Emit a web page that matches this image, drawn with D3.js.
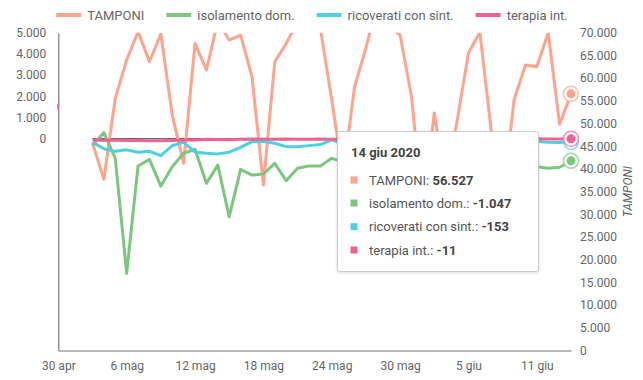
<!DOCTYPE html>
<html><head><meta charset="utf-8">
<script src="https://cdn.jsdelivr.net/npm/d3@7"></script>
<style>
body{margin:0;background:#fff;font-family:Roboto,"Open Sans",sans-serif;}
svg text{font-family:Roboto,sans-serif;}
</style></head>
<body><svg id="c" width="643" height="380"></svg>
<script>
// ---- data ----
const startDate = "2020-05-03";
const endDate = "2020-06-14";
const seriesNames = ["TAMPONI","isolamento dom.","ricoverati con sint.","terapia int."];
const seriesColors = ["#ffa48c","#7dc67f","#4dd0e1","#f06292"];
const tamponi = [45700,37700,55550,63990,70220,63610,69710,51870,41230,67660,61780,72500,68390,69490,60310,36450,63610,67620,72400,75000,71000,55180,38500,58040,66630,76600,71300,69490,55900,31000,52310,36500,50550,65530,70100,48400,33000,55180,62890,62510,70000,49820,56527];
const isolamento = [-300,280,-930,-6360,-1290,-980,-2240,-1330,-690,-500,-2110,-1250,-3690,-1450,-1720,-1670,-1170,-1990,-1400,-1290,-1290,-930,-1100,-1500,-800,-1200,-1600,-900,-1300,-2000,-1100,-1400,-1700,-1000,-1300,-1200,-1500,-1100,-1250,-1330,-1400,-1350,-1047];
const ricoverati = [-175,-480,-600,-530,-640,-600,-800,-330,-175,-640,-690,-720,-640,-410,-140,-140,-220,-380,-380,-330,-280,-60,-250,-300,-350,-300,-250,-200,-300,-350,-400,-300,-250,-200,-300,-250,-200,-150,-120,-120,-170,-180,-153];
const terapia = [-70,-75,-80,-85,-90,-95,-100,-90,-80,-60,-30,-40,-50,-30,-20,-30,-25,-20,-30,-25,-20,-30,-25,-20,-30,-25,-20,-15,-20,-25,-20,-15,-20,-25,-15,-20,-15,-20,-15,-10,-15,-12,-11];
const leftTicks = [0,1000,2000,3000,4000,5000];
const rightTicks = [0,5000,10000,15000,20000,25000,30000,35000,40000,45000,50000,55000,60000,65000,70000];
const xTickDates = ["2020-04-30","2020-05-06","2020-05-12","2020-05-18","2020-05-24","2020-05-30","2020-06-05","2020-06-11"];
const xTickLabels = ["30 apr","6 mag","12 mag","18 mag","24 mag","30 mag","5 giu","11 giu"];
const tooltipTitle = "14 giu 2020";
const rightAxisTitle = "TAMPONI";

// ---- setup ----
const parse = d3.timeParse("%Y-%m-%d");
const dates = d3.timeDay.range(parse(startDate), d3.timeDay.offset(parse(endDate),1));
const it = d3.formatLocale({decimal:",",thousands:".",grouping:[3],currency:["€",""],minus:"-"});
const fmt = it.format(",d");

const svg = d3.select("#c");
const L = 58.3, R = 571, T = 32.7, B = 350.5;
const x = d3.scaleTime().domain([parse("2020-04-30"), parse("2020-06-14")]).range([L, R]);
const yL = d3.scaleLinear().domain([-10000, 5000]).range([B, T]);
const yR = d3.scaleLinear().domain([0, 70000]).range([B, T]);

svg.append("defs").append("clipPath").attr("id","clip")
  .append("rect").attr("x",L).attr("y",T).attr("width",R-L+20).attr("height",B-T);
const sh = svg.select("defs").append("filter").attr("id","sh").attr("x","-10%").attr("y","-10%").attr("width","130%").attr("height","130%");
sh.append("feDropShadow").attr("dx",0).attr("dy",1).attr("stdDeviation",1.5).attr("flood-color","#000").attr("flood-opacity",0.15);

// axes
const gL = svg.append("g").attr("transform",`translate(${L},0)`)
  .call(d3.axisLeft(yL).tickValues(leftTicks).tickFormat(fmt).tickSize(0).tickPadding(12));
const gR = svg.append("g").attr("transform",`translate(${R},0)`)
  .call(d3.axisRight(yR).tickValues(rightTicks).tickFormat(fmt).tickSize(0).tickPadding(9));
gR.select(".domain").remove();
const gX = svg.append("g").attr("transform",`translate(0,${B})`)
  .call(d3.axisBottom(x).tickValues(xTickDates.map(parse)).tickFormat((d,i)=>xTickLabels[i]).tickSize(0).tickPadding(11));
[gL,gR,gX].forEach(g=>{
  g.selectAll(".domain").attr("stroke","#777").attr("stroke-width",1.2);
  g.selectAll("text").attr("fill","#666").style("font-size","12px").style("font-family","Roboto");
});
svg.append("text").attr("transform",`translate(632,${(T+B)/2}) rotate(-90)`)
  .attr("text-anchor","middle").style("font-size","12px").style("font-style","italic")
  .attr("fill","#666").text(rightAxisTitle);

// small pink mark on left axis
svg.append("rect").attr("x",L-1.3).attr("y",yL(1650)).attr("width",2).attr("height",6).attr("fill",seriesColors[3]).attr("opacity",0.8);

// lines
const plot = svg.append("g").attr("clip-path","url(#clip)");
plot.append("line").attr("x1",x(dates[0])).attr("x2",x(dates[dates.length-1]))
  .attr("y1",yL(0)).attr("y2",yL(0)).attr("stroke","#555").attr("stroke-width",1);
const series = [
  {vals:tamponi, y:yR},
  {vals:isolamento, y:yL},
  {vals:ricoverati, y:yL},
  {vals:terapia, y:yL}
];
series.forEach((s,k)=>{
  const line = d3.line().x((d,i)=>x(dates[i])).y(d=>s.y(d));
  plot.append("path").datum(s.vals).attr("d",line).attr("fill","none")
    .attr("stroke",seriesColors[k]).attr("stroke-width",3).attr("stroke-linejoin","round");
});
// end markers
series.forEach((s,k)=>{
  const n = s.vals.length-1;
  const cx = x(dates[n]), cy = s.y(s.vals[n]);
  svg.append("circle").attr("cx",cx).attr("cy",cy).attr("r",7.5).attr("fill","#fff")
    .attr("stroke",seriesColors[k]).attr("stroke-width",1.5).attr("stroke-opacity",0.7);
  svg.append("circle").attr("cx",cx).attr("cy",cy).attr("r",4.5).attr("fill",seriesColors[k]);
});

// legend
const lg = svg.append("g");
let lx = 0;
seriesNames.forEach((n,k)=>{
  const g = lg.append("g").attr("transform",`translate(${lx},0)`);
  g.append("line").attr("x1",0).attr("x2",25).attr("y1",15).attr("y2",15)
    .attr("stroke",seriesColors[k]).attr("stroke-width",4);
  const t = g.append("text").attr("x",31).attr("y",15).attr("dy","0.35em")
    .style("font-size","13px").attr("fill","#666").text(n);
  lx += 31 + t.node().getComputedTextLength() + 22;
});
lx -= 22;
lg.attr("transform",`translate(${312 - lx/2},0)`);

// tooltip
const tt = svg.append("g");
tt.append("rect").attr("x",337.5).attr("y",131.5).attr("width",201).attr("height",140).attr("rx",2)
  .attr("fill","#fff").attr("stroke","#ccc").attr("filter","url(#sh)");
tt.append("text").attr("x",351).attr("y",152.5).attr("dy","0.35em").style("font-size","13px")
  .style("font-weight","bold").attr("fill","#444").text(tooltipTitle);
const lastVals = series.map(s=>s.vals[s.vals.length-1]);
const rowsY = [180,203,226.7,250];
seriesNames.forEach((n,k)=>{
  tt.append("rect").attr("x",350.5).attr("y",rowsY[k]-3.5).attr("width",7).attr("height",7).attr("fill",seriesColors[k]);
  const t = tt.append("text").attr("x",369).attr("y",rowsY[k]).attr("dy","0.35em").style("font-size","13px").attr("fill","#555");
  t.append("tspan").text(n+": ");
  t.append("tspan").style("font-weight","bold").attr("fill","#444").text(fmt(lastVals[k]));
});
</script></body></html>
